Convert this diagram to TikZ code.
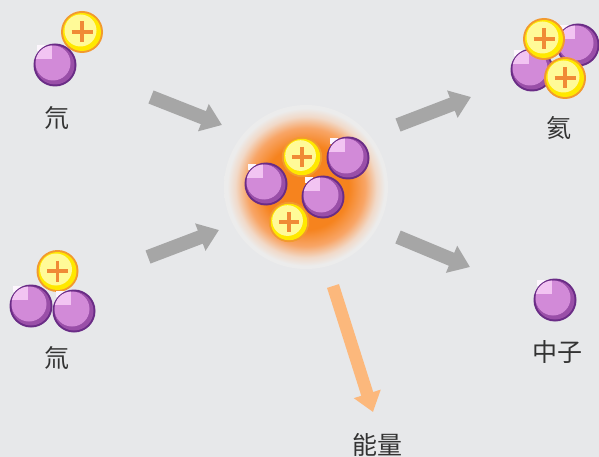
\documentclass[tikz,border=0pt]{standalone}
\usepackage{fontspec}
\newfontfamily\cjk{Noto Sans CJK SC}
\usetikzlibrary{arrows.meta}

\definecolor{bg}{HTML}{E7E8EA}
\definecolor{nborder}{HTML}{6A2C86}
\definecolor{ndark}{HTML}{9A4FA8}
\definecolor{nmain}{HTML}{D28AD8}
\definecolor{nlight}{HTML}{F2C4F2}
\definecolor{pring}{HTML}{F29A2E}
\definecolor{pyellow}{HTML}{FFE800}
\definecolor{ppale}{HTML}{FFFA98}
\definecolor{pplus}{HTML}{F08A36}
\definecolor{arrgray}{HTML}{A6A6A6}
\definecolor{arrorange}{HTML}{FCB87C}
\definecolor{labeltext}{HTML}{333333}
\definecolor{glowcore}{HTML}{F6831E}
\definecolor{glowmid}{HTML}{F8A566}
\definecolor{glowpale}{HTML}{F1D9C8}
\definecolor{glowedge}{HTML}{ECECEC}

% radial glow behind the fusing nucleus (the central 50bp square covers the path)
\pgfdeclareradialshading{fusionglow}{\pgfpoint{0bp}{0bp}}{%
  color(0bp)=(glowcore); color(13bp)=(glowcore); color(18bp)=(glowmid);
  color(21.5bp)=(glowpale); color(24bp)=(glowedge); color(50bp)=(glowedge)}

\tikzset{
  neutron/.pic={
    \fill[white!85!nlight] (-18,-20) rectangle (-10,-14);
    \fill[nborder] (0,0) circle (21.5);
    \fill[ndark] (0,0) circle (19.5);
    \fill[nmain] (-2,-2) circle (17.5);
    \begin{scope}
      \clip (-2,-2) circle (17.5);
      \fill[nlight] (-22,-22) rectangle (-3,-6);
    \end{scope}
  },
  proton/.pic={
    \fill[pring] (0,0) circle (21);
    \fill[pyellow] (0,0) circle (19);
    \fill[ppale] (-1.5,-1.5) circle (16);
    \draw[pplus, line width=3.3pt] (-10.5,0) -- (10.5,0) (0,-10.5) -- (0,10.5);
  },
  grayarrow/.style={draw=arrgray, line width=14pt,
    -{Triangle[length=20pt,width=28pt]}, arrgray},
  energyarrow/.style={draw=arrorange, line width=12.5pt,
    -{Triangle[length=19pt,width=27pt]}, arrorange},
  caption/.style={font=\cjk\fontsize{25}{28}\selectfont, text=labeltext,
    inner sep=0pt, anchor=center},
}

\begin{document}
\begin{tikzpicture}[x=1pt, y=-1pt]
  \fill[bg] (0,0) rectangle (599,457);
  \useasboundingbox (0,0) rectangle (599,457);

  % deuterium
  \pic at (82,32) {proton};
  \pic at (55,65) {neutron};
  \node[caption] (deut) at (57,118) {氘};

  % tritium
  \pic at (57.5,271) {proton};
  \pic at (31,306) {neutron};
  \pic at (74,311) {neutron};
  \node[caption] (trit) at (57,358) {氚};

  % fusion glow and compound nucleus
  \shade[shading=fusionglow] (306,187) circle (82);
  \pic[scale=0.96] at (302,157) {proton};
  \pic at (348,158) {neutron};
  \pic at (266,184) {neutron};
  \pic at (323,197) {neutron};
  \pic[scale=0.96] at (289,222) {proton};

  % helium
  \pic at (578,45) {neutron};
  \pic at (532,70) {neutron};
  \pic at (544,39) {proton};
  \pic at (565,78) {proton};
  \node[caption] (helium) at (559,128) {氦};

  % free neutron
  \pic at (555,300) {neutron};
  \node[caption] (neutronlabel) at (557,352) {中子};

  % energy
  \node[caption] (energy) at (377,445) {能量};

  % reaction arrows
  \coordinate (a1s) at (151,97);  \coordinate (a1e) at (222,125);
  \coordinate (a2s) at (148,257); \coordinate (a2e) at (219,230);
  \coordinate (a3s) at (398,125); \coordinate (a3e) at (471,97);
  \coordinate (a4s) at (398,237); \coordinate (a4e) at (470,267);
  \coordinate (a5s) at (333,286); \coordinate (a5e) at (373,412);
  \draw[grayarrow] (a1s) -- (a1e);
  \draw[grayarrow] (a2s) -- (a2e);
  \draw[grayarrow] (a3s) -- (a3e);
  \draw[grayarrow] (a4s) -- (a4e);
  \draw[energyarrow] (a5s) -- (a5e);
\end{tikzpicture}
\end{document}
